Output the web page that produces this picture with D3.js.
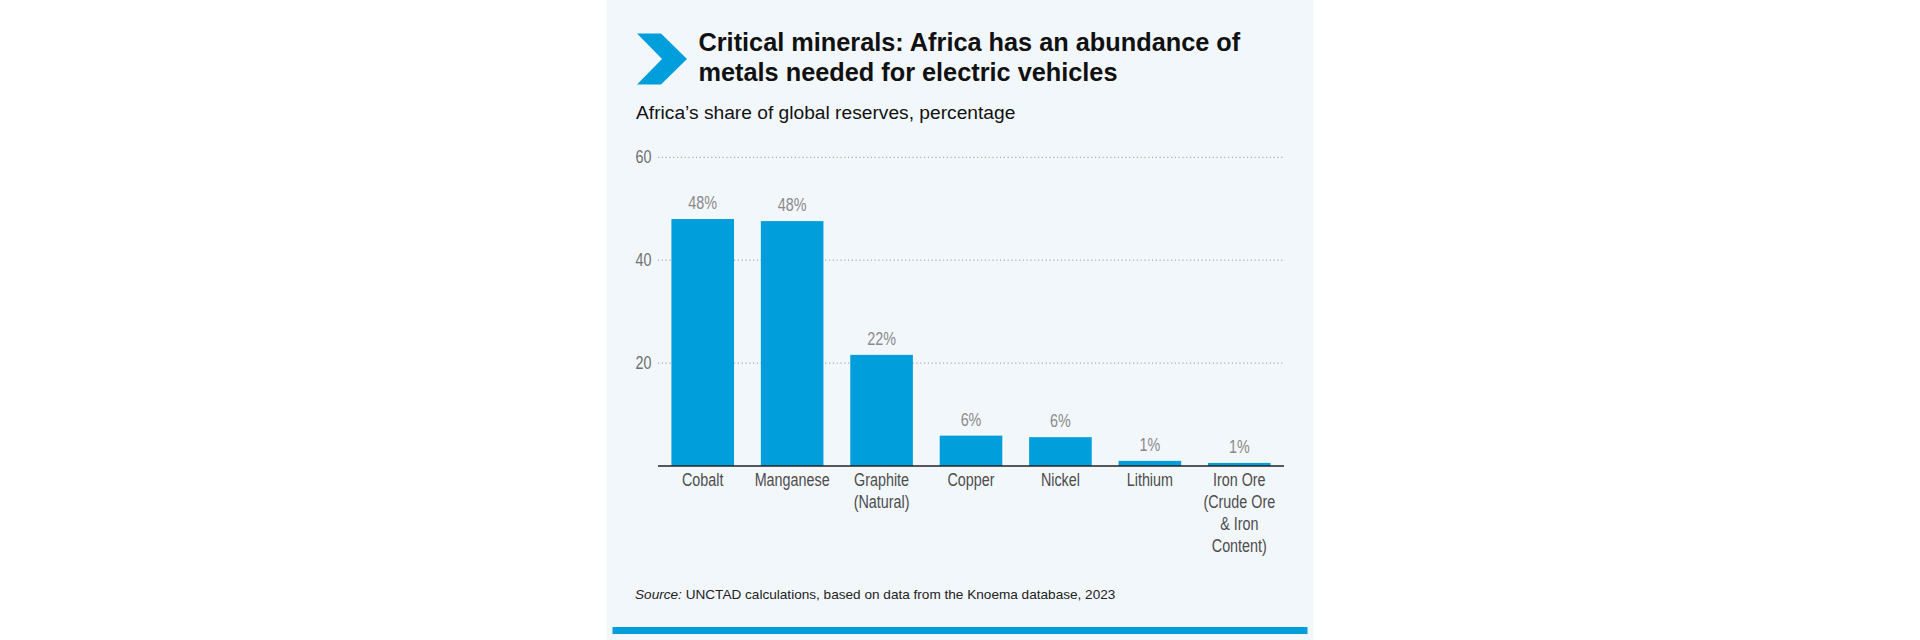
<!DOCTYPE html>
<html>
<head>
<meta charset="utf-8">
<script src="https://cdn.jsdelivr.net/npm/d3@7"></script>
<style>
  html, body { margin: 0; padding: 0; background: #ffffff; }
  svg { display: block; }
</style>
</head>
<body>
<div id="chart"></div>
<script>
// ---- Data ----
const categories = ["Cobalt", "Manganese", "Graphite\n(Natural)", "Copper", "Nickel", "Lithium", "Iron Ore\n(Crude Ore\n& Iron\nContent)"];
const values = [48.0, 47.6, 21.6, 5.9, 5.6, 1.0, 0.6];
const valueLabels = ["48%", "48%", "22%", "6%", "6%", "1%", "1%"];
const yTicks = [20, 40, 60];
const titleLines = ["Critical minerals: Africa has an abundance of", "metals needed for electric vehicles"];
const subtitle = "Africa\u2019s share of global reserves, percentage";

// ---- Layout ----
const W = 1920, H = 640;
const sans = "'Liberation Sans', Arial, Helvetica, sans-serif";
const SX = 0.82; // horizontal condensing for the condensed label face

const svg = d3.select("#chart").append("svg").attr("width", W).attr("height", H);

// panel
svg.append("rect").attr("x", 607).attr("y", 0).attr("width", 706).attr("height", H).attr("fill", "#f2f7fc");

// bottom accent bar
svg.append("rect").attr("x", 612.5).attr("y", 627).attr("width", 695).attr("height", 7).attr("fill", "#009edb");

// chevron
svg.append("path")
  .attr("d", "M637,33.5 L661,33.5 L687,59 L661,84.5 L637,84.5 L662,59 Z")
  .attr("fill", "#009edb");

// title
const title = svg.append("text").attr("font-family", sans).attr("font-weight", "bold")
  .attr("font-size", 25.3).attr("fill", "#111");
titleLines.forEach((t, i) => {
  title.append("tspan").attr("x", 698.5).attr("y", 50.5 + i * 30).text(t);
});

// subtitle
svg.append("text").attr("x", 636).attr("y", 119).attr("font-family", sans)
  .attr("font-size", 19.2).attr("fill", "#111").text(subtitle);

// ---- Scales ----
const x = d3.scaleBand().domain(categories).range([658, 1284]).paddingInner(0.3).paddingOuter(0.15);
const y = d3.scaleLinear().domain([0, 60]).range([466, 157.3]);

// gridlines
svg.append("g").selectAll("line").data(yTicks).join("line")
  .attr("x1", 658).attr("x2", 1284)
  .attr("y1", d => y(d)).attr("y2", d => y(d))
  .attr("stroke", "#9a9a9a").attr("stroke-width", 1).attr("stroke-dasharray", "1.2,2.6");

// y axis labels via d3 axis
const yAxis = svg.append("g").attr("transform", "translate(658,0)")
  .call(d3.axisLeft(y).tickValues(yTicks).tickSize(0).tickPadding(0).tickFormat(d3.format("d")));
yAxis.select(".domain").remove();
yAxis.selectAll(".tick text")
  .attr("x", -6.5 / SX)
  .attr("transform", `scale(${SX},1)`)
  .attr("font-family", sans).attr("font-size", 17.5).attr("fill", "#6f6f6f");

// bars
svg.append("g").selectAll("rect").data(values).join("rect")
  .attr("x", (d, i) => x(categories[i]))
  .attr("width", x.bandwidth())
  .attr("y", d => y(d))
  .attr("height", d => y(0) - y(d))
  .attr("fill", "#009edb");

// value labels
svg.append("g").selectAll("g").data(values).join("g")
  .attr("transform", (d, i) => `translate(${x(categories[i]) + x.bandwidth() / 2},${y(d) - 10})`)
  .append("text")
  .attr("transform", `scale(${SX},1)`)
  .attr("text-anchor", "middle")
  .attr("font-family", sans).attr("font-size", 17.5).attr("fill", "#8a8a8a")
  .text((d, i) => valueLabels[i]);

// baseline axis
const xAxis = svg.append("g").attr("transform", `translate(0,${y(0)})`)
  .call(d3.axisBottom(x).tickSize(0).tickPadding(0));
xAxis.select(".domain").attr("stroke", "#222").attr("stroke-width", 1.5)
  .attr("d", "M658,0H1284");
xAxis.selectAll(".tick text").each(function(d) {
  const t = d3.select(this);
  t.text(null).attr("y", 0).attr("dy", null)
    .attr("transform", `scale(${SX},1)`)
    .attr("font-family", sans).attr("font-size", 17.5).attr("fill", "#4d4d4d");
  d.split("\n").forEach((line, i) => {
    t.append("tspan").attr("x", 0).attr("y", 20 + i * 22).text(line);
  });
});

// source
const src = svg.append("text").attr("x", 635).attr("y", 599).attr("font-family", sans)
  .attr("font-size", 13.6).attr("fill", "#222");
src.append("tspan").attr("font-style", "italic").text("Source:");
src.append("tspan").text(" UNCTAD calculations, based on data from the Knoema database, 2023");
</script>
</body>
</html>
